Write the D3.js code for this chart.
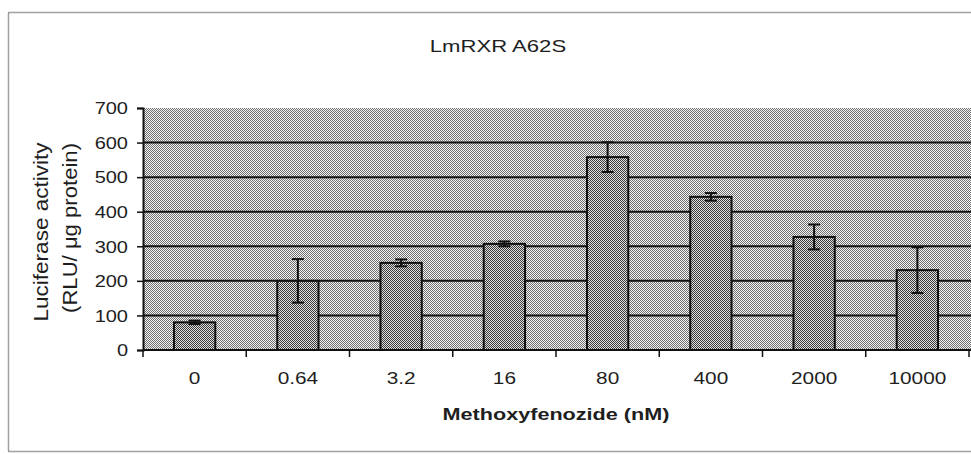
<!DOCTYPE html>
<html>
<head>
<meta charset="utf-8">
<script src="https://cdn.jsdelivr.net/npm/d3@7"></script>
<style>
  html, body { margin: 0; padding: 0; background: #fff; }
  svg { display: block; }
  text { font-family: Arial, "Liberation Sans", sans-serif; fill: #1e1e1e; }
</style>
</head>
<body>
<div id="chart"></div>
<script>
// data
const doses = ['0', '0.64', '3.2', '16', '80', '400', '2000', '10000'];
const activity = [80, 200, 252, 307, 558, 443, 327, 231];
const activityErr = [5, 63, 10, 7, 43, 11, 36, 66];
const yTicks = [0, 100, 200, 300, 400, 500, 600, 700];

const width = 971;
const height = 454;
const plot = { left: 143, right: 969, top: 108, bottom: 350 };
const stretchX = 1.3; // the picture is a bit wide, so text is widened to match

const svg = d3.select('#chart')
  .append('svg')
  .attr('width', width)
  .attr('height', height);

// dithered grey fills
const defs = svg.append('defs');
function checker(id, light, dark) {
  const p = defs.append('pattern')
    .attr('id', id)
    .attr('width', 2)
    .attr('height', 2)
    .attr('patternUnits', 'userSpaceOnUse');
  p.append('rect').attr('width', 2).attr('height', 2).attr('fill', light);
  p.append('rect').attr('width', 1).attr('height', 1).attr('fill', dark);
  p.append('rect').attr('x', 1).attr('y', 1).attr('width', 1).attr('height', 1).attr('fill', dark);
}
checker('bgFill', '#f4f4f4', '#707070');
checker('barFill', '#e0e0e0', '#3a3a3a');

function widen(sel, k) {
  sel.each(function () {
    const len = this.getComputedTextLength();
    d3.select(this).attr('textLength', len * k).attr('lengthAdjust', 'spacingAndGlyphs');
  });
}

// outer frame (right side runs off the picture)
svg.append('rect')
  .attr('x', 8.5)
  .attr('y', 12.5)
  .attr('width', 1000)
  .attr('height', 439)
  .attr('fill', 'none')
  .attr('stroke', '#444')
  .attr('stroke-width', 1.5)
  .attr('stroke-dasharray', '1,1');

const x = d3.scaleBand()
  .domain(doses)
  .range([plot.left, plot.right])
  .paddingInner(0.6)
  .paddingOuter(0.3);

const y = d3.scaleLinear()
  .domain([0, 700])
  .range([plot.bottom, plot.top]);

// plot area
svg.append('rect')
  .attr('x', plot.left)
  .attr('y', plot.top)
  .attr('width', width - plot.left)
  .attr('height', plot.bottom - plot.top)
  .attr('fill', 'url(#bgFill)');

// gridlines
svg.append('g')
  .selectAll('line')
  .data(yTicks.filter(d => d > 0 && d < 700))
  .enter()
  .append('line')
  .attr('x1', plot.left)
  .attr('x2', width)
  .attr('y1', d => y(d))
  .attr('y2', d => y(d))
  .attr('stroke', '#111')
  .attr('stroke-width', 2);

// bars
svg.append('g')
  .selectAll('rect')
  .data(doses)
  .enter()
  .append('rect')
  .attr('x', d => x(d))
  .attr('y', (d, i) => y(activity[i]))
  .attr('width', x.bandwidth())
  .attr('height', (d, i) => y(0) - y(activity[i]))
  .attr('fill', 'url(#barFill)')
  .attr('stroke', '#111')
  .attr('stroke-width', 2);

// error bars
const err = svg.append('g')
  .selectAll('g')
  .data(doses)
  .enter()
  .append('g')
  .attr('stroke', '#111')
  .attr('stroke-width', 2);

const cx = d => x(d) + x.bandwidth() / 2;
err.append('line')
  .attr('x1', cx).attr('x2', cx)
  .attr('y1', (d, i) => y(activity[i] + activityErr[i]))
  .attr('y2', (d, i) => y(activity[i] - activityErr[i]));
[1, -1].forEach(s => {
  err.append('line')
    .attr('x1', d => cx(d) - 6).attr('x2', d => cx(d) + 6)
    .attr('y1', (d, i) => y(activity[i] + s * activityErr[i]))
    .attr('y2', (d, i) => y(activity[i] + s * activityErr[i]));
});

// y axis
const yAxis = svg.append('g')
  .attr('transform', `translate(${plot.left},0)`)
  .call(d3.axisLeft(y).tickValues(yTicks).tickSize(6).tickPadding(9));
yAxis.select('.domain').attr('stroke', '#111').attr('stroke-width', 2);
yAxis.selectAll('.tick line').attr('stroke', '#111').attr('stroke-width', 1.5);
yAxis.selectAll('.tick text')
  .style('font-size', '16px')
  .attr('dy', '0.36em')
  .call(widen, 1.25);

// x axis: ticks sit on the category boundaries
const xAxis = svg.append('g')
  .attr('transform', `translate(0,${plot.bottom})`)
  .call(d3.axisBottom(x).tickSize(0).tickPadding(23));
xAxis.select('.domain').attr('stroke', '#111').attr('stroke-width', 2)
  .attr('d', `M${plot.left},0H${width}`);
xAxis.selectAll('.tick text')
  .style('font-size', '16px')
  .call(widen, stretchX);
xAxis.append('g')
  .selectAll('line')
  .data(doses.map((d, i) => i).concat([doses.length]))
  .enter()
  .append('line')
  .attr('x1', i => plot.left + i * x.step())
  .attr('x2', i => plot.left + i * x.step())
  .attr('y1', 0)
  .attr('y2', 7)
  .attr('stroke', '#111')
  .attr('stroke-width', 1.5);

// title
svg.append('text')
  .attr('x', 498)
  .attr('y', 52)
  .attr('text-anchor', 'middle')
  .style('font-size', '17px')
  .text('LmRXR A62S')
  .call(widen, stretchX);

// x axis title
svg.append('text')
  .attr('x', 556)
  .attr('y', 420)
  .attr('text-anchor', 'middle')
  .style('font-size', '16px')
  .style('font-weight', 'bold')
  .text('Methoxyfenozide (nM)')
  .call(widen, 1.35);

// y axis title, two lines
const yTitle = [
  { text: 'Luciferase activity', x: 48, y: 232, len: 179 },
  { text: '(RLU/ μg protein)', x: 77, y: 228, len: 170 }
];
svg.append('g')
  .selectAll('text')
  .data(yTitle)
  .enter()
  .append('text')
  .attr('transform', d => `translate(${d.x},${d.y}) rotate(-90) scale(1,1.3)`)
  .attr('text-anchor', 'middle')
  .style('font-size', '15px')
  .attr('textLength', d => d.len)
  .attr('lengthAdjust', 'spacingAndGlyphs')
  .text(d => d.text);
</script>
</body>
</html>
